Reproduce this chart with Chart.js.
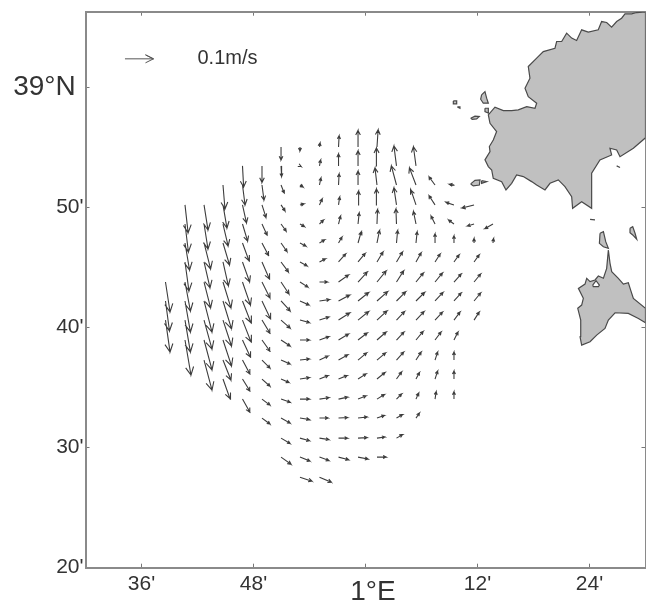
<!DOCTYPE html>
<html>
<head>
<meta charset="utf-8">
<title>Surface currents</title>
<script src="https://cdn.jsdelivr.net/npm/chart.js@4"></script>
<style>
  html, body { margin: 0; padding: 0; background: #fff; overflow: hidden; }
  #chart { display: block; filter: blur(0.4px); }
</style>
</head>
<body>
<canvas id="chart" width="646" height="601"></canvas>
<script>
// all positions are minutes of arc: lon from 1 deg E, lat from 39 deg N
const xTickValues = [-24, -12, 0, 12, 24];
const xTickLabels = ["36'", "48'", "", "12'", "24'"];
const yTickValues = [0, -10, -20, -30, -40];
const yTickLabels = ["39°N\u00a0", "50'", "40'", "30'", "20'"];

const gridLon = [-21.43, -19.34, -17.3, -15.27, -13.18, -11.09, -9.05, -7.02, -4.93, -2.89, -0.8, 1.23, 3.32, 5.41, 7.45, 9.48, 11.63, 13.66];
const gridLat = [-4.96, -6.54, -8.13, -9.79, -11.38, -12.96, -14.54, -16.21, -17.79, -19.38, -21.04, -22.71, -24.29, -25.96, -27.54, -29.21, -30.79, -32.46];

// one entry per column, first value sits on row firstRow[col], mm/s
const firstRow = [7, 3, 3, 2, 1, 1, 0, 0, 0, 0, 0, 0, 1, 1, 2, 2, 3, 4];
const eastward = [
  [16, 14, 16],
  [11, 12, 16, 14, 19, 19, 19, 21],
  [14, 14, 23, 21, 23, 28, 28, 28, 28],
  [7, 14, 18, 23, 19, 28, 30, 30, 30, 28, 25],
  [4, 9, 14, 18, 23, 25, 28, 30, 30, 28, 26, 26, 26],
  [0, 7, 14, 18, 23, 26, 28, 30, 28, 28, 28, 28, 28, 28],
  [0, 2, 11, 14, 18, 21, 26, 28, 32, 32, 32, 32, 28, 32, 32, 32, 35],
  [0, 4, 11, 14, 16, 21, 25, 28, 32, 33, 33, 33, 33, 33, 33, 33, 35, 42],
  [2, 4, 5, 9, 14, 18, 21, 28, 35, 33, 33, 30, 30, 33, 30, 33, 33, 42],
  [2, 0, 2, 4, 7, 12, 25, 35, 39, 39, 35, 32, 30, 32, 32, 32, 35],
  [0, 0, 0, 2, 4, 11, 25, 32, 37, 37, 32, 30, 28, 28, 32, 32, 35],
  [4, -2, -7, -2, 2, 9, 21, 32, 37, 35, 32, 30, 28, 26, 26, 28, 32],
  [-9, -18, -9, -2, 4, 21, 25, 32, 28, 26, 25, 18, 18, 21, 21],
  [-9, -23, -18, -9, 4, 18, 26, 30, 28, 25, 18, 12, 9, 12],
  [-21, -21, -14, 0, 18, 26, 28, 26, 21, 9, 9, 4],
  [-16, -28, -19, 0, 18, 25, 25, 21, 14, 0, 0, 0],
  [-42, -23, 0, 18, 23, 23, 18],
  [-28, 2],
];
const northward = [
  [-105, -105, -112],
  [-98, -98, -95, -102, -102, -109, -112, -123],
  [-88, -88, -91, -91, -91, -109, -102, -105, -105],
  [-84, -81, -77, -77, -84, -91, -98, -91, -91, -70, -70],
  [-74, -70, -63, -60, -63, -70, -81, -77, -77, -60, -49, -42, -46],
  [-58, -53, -44, -39, -44, -60, -56, -63, -46, -39, -28, -25, -21, -21],
  [-46, -37, -28, -21, -25, -30, -35, -42, -35, -28, -21, -14, -12, -11, -18, -19, -25],
  [-14, -2, -7, 4, -9, -11, -14, -18, -14, -9, 0, 4, 5, 0, -5, -9, -14, -14],
  [14, 21, 25, 21, 14, 11, 11, 0, 5, 11, 12, 14, 12, 5, 0, -5, -12, -18],
  [39, 42, 39, 28, 28, 21, 28, 25, 21, 25, 21, 18, 12, 7, 2, 0, -9],
  [58, 53, 49, 49, 39, 39, 30, 35, 30, 30, 25, 25, 18, 11, 4, 2, -7],
  [60, 63, 60, 56, 51, 44, 35, 39, 33, 32, 28, 25, 23, 16, 9, 4, 0],
  [70, 67, 60, 53, 44, 35, 39, 32, 30, 28, 28, 25, 18, 12, 12],
  [67, 60, 53, 44, 39, 32, 32, 30, 30, 30, 28, 23, 21, 18],
  [28, 32, 28, 32, 28, 32, 30, 28, 28, 28, 28, 26],
  [2, 9, 14, 25, 25, 28, 28, 28, 28, 28, 28, 26],
  [-11, -7, 16, 25, 28, 28, 28],
  [-16, 16],
];

const refLon = -25.77;
const refLat = 2.375;
const refSpeed = 100;
const refLabel = "0.1m/s";
const lonLabel = "1°E";

// coast outlines as [lon, lat]
const ibiza = [[30, 6.29], [29.05, 6.23], [28.52, 6.12], [27.8, 6.12], [27.44, 5.76], [26.91, 5.48], [26.37, 5.01], [25.84, 5.4], [25.3, 5.48], [24.94, 4.79], [23.87, 4.6], [23.16, 4.79], [22.62, 3.9], [22.09, 4.1], [21.55, 4.51], [21.02, 3.82], [20.48, 3.82], [20.3, 3.26], [19.05, 2.98], [18.34, 2.43], [17.44, 1.73], [17.62, 0.76], [17.09, -0.07], [17.44, -0.77], [18.34, -1.32], [18.16, -1.74], [17.27, -1.6], [16.37, -1.88], [15.66, -1.93], [14.77, -1.93], [13.87, -1.65], [13.16, -2.29], [13.34, -2.99], [14.05, -3.68], [13.69, -4.38], [13.27, -4.93], [13.34, -5.35], [12.8, -6.04], [13.16, -6.6], [13.52, -6.88], [13.69, -7.57], [14.59, -7.85], [15.05, -8.54], [15.66, -7.99], [16.19, -7.29], [16.91, -7.43], [17.8, -7.85], [18.34, -8.13], [19.23, -8.54], [19.77, -7.99], [20.66, -7.71], [21.37, -8.27], [22.09, -9.1], [22.19, -10.07], [23.16, -9.52], [24.23, -10.07], [24.23, -7.15], [25.12, -6.04], [26.37, -5.63], [26.19, -5.07], [26.91, -5.21], [27.27, -5.77], [28.7, -5.07], [30, -4.2], [30, 6.29]];
const formentera = [[26.02, -13.54], [26.2, -14.65], [26.38, -15.35], [27.09, -15.9], [27.63, -16.38], [28.16, -16.27], [28.41, -16.88], [28.7, -17.57], [30, -18.4], [30, -19.6], [29.24, -19.24], [28.16, -18.82], [26.74, -18.77], [26.02, -19.38], [25.66, -20.07], [24.77, -20.63], [24.06, -21.18], [23.16, -21.46], [22.99, -20.77], [23.06, -19.38], [22.74, -18.4], [23.16, -18.13], [23.34, -17.57], [22.81, -16.74], [23.52, -16.38], [23.7, -15.9], [24.06, -16.18], [24.59, -16.04], [24.95, -15.71], [25.49, -15.9], [25.84, -15.07], [26.02, -13.54]];
const lagoon = [[24.34, -16.46], [24.7, -16.1], [25.06, -16.46], [24.95, -16.6], [24.41, -16.6], [24.34, -16.46]];
const islets = [
  [[12.44, -0.63], [12.8, -0.35], [12.98, -0.9], [13.16, -1.32], [12.62, -1.32], [12.34, -0.99], [12.44, -0.63]],
  [[12.8, -1.74], [13.16, -1.74], [13.16, -2.15], [12.8, -2.02], [12.8, -1.74]],
  [[9.41, -1.13], [9.77, -1.13], [9.77, -1.38], [9.48, -1.38], [9.41, -1.13]],
  [[9.84, -1.63], [10.12, -1.63], [10.12, -1.74], [9.84, -1.63]],
  [[11.27, -2.57], [11.73, -2.4], [12.19, -2.43], [11.91, -2.63], [11.44, -2.66], [11.27, -2.57]],
  [[9.05, -8.13], [9.55, -8.15], [9.05, -8.13]],
  [[11.27, -8.04], [11.73, -7.74], [12.27, -7.71], [12.2, -8.13], [11.55, -8.21], [11.27, -8.04]],
  [[12.44, -7.77], [12.98, -7.85], [12.44, -7.99], [12.44, -7.77]],
  [[26.91, -6.54], [27.27, -6.68], [26.91, -6.54]],
  [[25.13, -12.15], [25.49, -12.02], [25.74, -12.85], [26.02, -13.4], [25.49, -13.27], [25.06, -12.99], [25.13, -12.15]],
  [[24.06, -10.99], [24.59, -11.04], [24.06, -10.99]],
  [[28.34, -11.74], [28.63, -11.6], [28.88, -12.15], [29.06, -12.65], [28.63, -12.29], [28.34, -12.1], [28.34, -11.74]],
];

const lonMin = -30;
const lonMax = 30;
const latMin = -40;
const latMax = 6.3;

// quiver scale, a 0.1 m/s arrow is 28.5px long
const pxPerLon = 560 / (lonMax - lonMin);
const pxPerLat = 12;
const pxPerSpeed = 0.285;

const toPoints = (outline) => outline.map((p) => ({ x: p[0], y: p[1] }));

// tail, tip, barb, tip, barb, gap - worked out in px then put back into lon/lat
const arrowPoints = (lon, lat, u, v, minHead) => {
  const dx = u * pxPerSpeed;
  const dy = v * pxPerSpeed;
  const len = Math.hypot(dx, dy) || 1;
  const head = Math.max(minHead, Math.min(8, len * 0.28));
  const ax = dx / len;
  const ay = dy / len;
  const tip = { x: lon + dx / pxPerLon, y: lat + dy / pxPerLat };
  const barb = (side) => ({
    x: tip.x + (-ax * head - side * ay * head * 0.5) / pxPerLon,
    y: tip.y + (-ay * head + side * ax * head * 0.5) / pxPerLat,
  });
  return [{ x: lon, y: lat }, tip, barb(1), tip, barb(-1), { x: NaN, y: NaN }];
};

const currentPoints = [];
eastward.forEach((col, c) => {
  col.forEach((u, i) => {
    const r = firstRow[c] + i;
    currentPoints.push(...arrowPoints(gridLon[c], gridLat[r], u, northward[c][i], 3));
  });
});

const lineSet = (data, color, width, extra) => ({
  data,
  showLine: true,
  pointRadius: 0,
  borderColor: color,
  borderWidth: width,
  tension: 0,
  spanGaps: false,
  ...extra,
});

const landSet = (outline, fillColor) =>
  lineSet(toPoints(outline), "#4a4a4a", 1.2, { fill: "shape", backgroundColor: fillColor, order: 3 });

const fixedTicks = (values) => (scale) => {
  scale.ticks = values.map((value) => ({ value }));
};

// force the box size, and drop the margin chart.js keeps for half a tick label
const fixedBox = (prop, size) => (s) => {
  s[prop] = size;
  s.paddingTop = 0;
  s.paddingBottom = 0;
  s.paddingLeft = 0;
  s.paddingRight = 0;
};

const tickMarks = { drawOnChartArea: false, tickLength: -4, color: "#777", lineWidth: 1 };
const frameBorder = { color: "#8a8a8a", width: 2 };

// text that is not tied to a tick
const freeText = {
  id: "freeText",
  afterDraw: (chart) => {
    const { ctx, scales } = chart;
    ctx.save();
    ctx.fillStyle = "#333";
    ctx.textBaseline = "middle";
    ctx.textAlign = "left";
    ctx.font = "20px 'Liberation Sans'";
    ctx.fillText(refLabel, scales.x.getPixelForValue(-18), scales.y.getPixelForValue(refLat));
    ctx.textAlign = "center";
    ctx.font = "28px 'Liberation Sans'";
    ctx.fillText(lonLabel, scales.x.getPixelForValue(0.8), scales.y.getPixelForValue(latMin) + 25);
    ctx.restore();
  },
};

new Chart(document.getElementById("chart"), {
  type: "scatter",
  data: {
    datasets: [
      lineSet(currentPoints, "#3c3c3c", 1.1, { order: 1 }),
      lineSet(arrowPoints(refLon, refLat, refSpeed, 0, 8), "#555", 1, { order: 1 }),
      landSet(lagoon, "#fff"),
      ...islets.map((outline) => landSet(outline, "#c0c0c0")),
      landSet(formentera, "#c0c0c0"),
      landSet(ibiza, "#c0c0c0"),
    ],
  },
  options: {
    responsive: false,
    animation: false,
    events: [],
    layout: { padding: 0 },
    plugins: { legend: { display: false }, title: { display: false }, tooltip: { enabled: false } },
    scales: {
      x: {
        type: "linear",
        position: "bottom",
        min: lonMin,
        max: lonMax,
        afterBuildTicks: fixedTicks(xTickValues),
        afterFit: fixedBox("height", 33.3),
        border: frameBorder,
        grid: tickMarks,
        ticks: {
          autoSkip: false,
          maxRotation: 0,
          padding: 8,
          color: "#333",
          font: { family: "'Liberation Sans'", size: 21 },
          callback: (value) => xTickLabels[xTickValues.indexOf(value)],
        },
      },
      x2: {
        type: "linear",
        axis: "x",
        position: "top",
        min: lonMin,
        max: lonMax,
        afterBuildTicks: fixedTicks(xTickValues),
        afterFit: fixedBox("height", 11.7),
        border: frameBorder,
        grid: tickMarks,
        ticks: { display: false },
      },
      y: {
        type: "linear",
        position: "left",
        min: latMin,
        max: latMax,
        afterBuildTicks: fixedTicks(yTickValues),
        afterFit: fixedBox("width", 85.5),
        border: frameBorder,
        grid: tickMarks,
        ticks: {
          autoSkip: false,
          padding: 6,
          color: "#333",
          font: (ctx) => ({ family: "'Liberation Sans'", size: ctx.tick && ctx.tick.value === 0 ? 28 : 21 }),
          callback: (value) => yTickLabels[yTickValues.indexOf(value)],
        },
      },
      y2: {
        type: "linear",
        axis: "y",
        position: "right",
        min: latMin,
        max: latMax,
        afterBuildTicks: fixedTicks(yTickValues),
        afterFit: fixedBox("width", 0.5),
        border: frameBorder,
        grid: tickMarks,
        ticks: { display: false },
      },
    },
  },
  plugins: [freeText],
});
</script>
</body>
</html>
